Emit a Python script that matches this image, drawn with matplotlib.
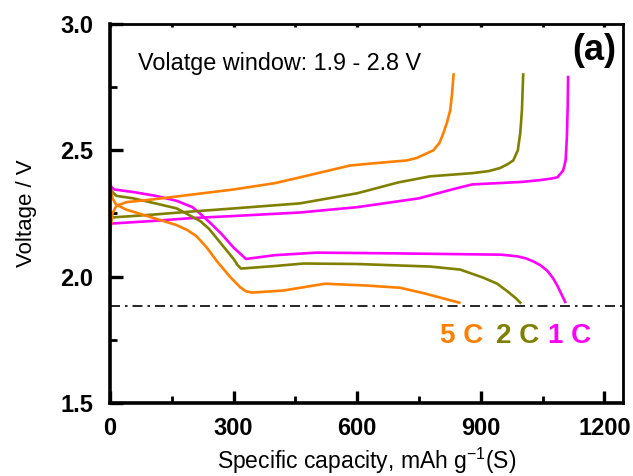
import matplotlib.pyplot as plt
from matplotlib.ticker import MultipleLocator

plt.rcParams['font.family'] = ['Liberation Sans', 'DejaVu Sans']

# 1 C
cap_1c_dis = [0, 3, 10, 56, 110, 162, 200, 215, 245, 270, 300, 320, 330, 400, 500, 700, 900, 950, 990, 1010, 1028, 1045, 1061, 1075, 1086, 1096, 1105]
v_1c_dis = [2.37, 2.355, 2.345, 2.335, 2.32, 2.30, 2.275, 2.255, 2.21, 2.17, 2.115, 2.085, 2.07, 2.085, 2.095, 2.092, 2.088, 2.087, 2.08, 2.072, 2.06, 2.045, 2.024, 1.995, 1.964, 1.93, 1.90]
cap_1c_ch = [2, 100, 200, 300, 461, 600, 750, 830, 879, 1000, 1044, 1070, 1086, 1100, 1106, 1109, 1111, 1112]
v_1c_ch = [2.21, 2.22, 2.232, 2.24, 2.254, 2.275, 2.31, 2.345, 2.365, 2.375, 2.382, 2.388, 2.393, 2.42, 2.46, 2.55, 2.67, 2.79]

# 2 C
cap_2c_dis = [0, 3, 15, 56, 110, 162, 219, 240, 260, 280, 300, 310, 318, 400, 470, 600, 777, 850, 906, 940, 963, 985, 996]
v_2c_dis = [2.36, 2.34, 2.32, 2.31, 2.29, 2.27, 2.22, 2.19, 2.15, 2.11, 2.07, 2.045, 2.032, 2.042, 2.052, 2.05, 2.04, 2.028, 1.996, 1.972, 1.944, 1.915, 1.897]
cap_2c_ch = [2, 100, 200, 300, 461, 600, 700, 777, 882, 920, 947, 965, 979, 990, 996, 1000, 1003]
v_2c_ch = [2.234, 2.245, 2.258, 2.27, 2.29, 2.33, 2.373, 2.397, 2.41, 2.418, 2.43, 2.445, 2.46, 2.50, 2.57, 2.66, 2.80]

# 5 C
cap_5c_dis = [0, 2, 6, 15, 40, 80, 130, 160, 187, 210, 235, 260, 291, 316, 330, 345, 420, 522, 620, 704, 760, 802, 848]
v_5c_dis = [2.39, 2.34, 2.31, 2.285, 2.265, 2.245, 2.22, 2.205, 2.185, 2.16, 2.115, 2.06, 2.00, 1.958, 1.942, 1.937, 1.945, 1.972, 1.965, 1.956, 1.935, 1.917, 1.897]
cap_5c_ch = [0, 2, 6, 15, 40, 100, 200, 300, 400, 461, 583, 650, 721, 745, 785, 800, 809, 818, 826, 830, 834]
v_5c_ch = [2.14, 2.20, 2.25, 2.28, 2.295, 2.305, 2.325, 2.345, 2.37, 2.393, 2.44, 2.45, 2.46, 2.47, 2.50, 2.53, 2.567, 2.61, 2.66, 2.72, 2.80]

cutoff = 1.885

c1, c2, c5 = '#FF00FF', '#808000', '#FF8000'

fig = plt.figure(figsize=(6.33, 4.76), dpi=100)
ax = fig.add_axes([0.1738, 0.1534, 0.8102, 0.7962])

lw = 1.9
ax.plot(cap_1c_dis, v_1c_dis, color=c1, lw=lw)
ax.plot(cap_1c_ch, v_1c_ch, color=c1, lw=lw)
ax.plot(cap_2c_dis, v_2c_dis, color=c2, lw=lw)
ax.plot(cap_2c_ch, v_2c_ch, color=c2, lw=lw)
ax.plot(cap_5c_dis, v_5c_dis, color=c5, lw=lw)
ax.plot(cap_5c_ch, v_5c_ch, color=c5, lw=lw)

ax.axhline(cutoff, color='black', lw=1.2, ls=(0, (6, 3, 1.5, 3)))

ax.set_xlim(0, 1245)
ax.set_ylim(1.5, 3.0)
ax.xaxis.set_major_locator(MultipleLocator(300))
ax.xaxis.set_minor_locator(MultipleLocator(150))
ax.yaxis.set_major_locator(MultipleLocator(0.5))
ax.yaxis.set_minor_locator(MultipleLocator(0.25))
ax.yaxis.set_major_formatter(plt.FormatStrFormatter('%.1f'))

for s in ['left', 'bottom']:
    ax.spines[s].set_linewidth(2.6)
for s in ['top', 'right']:
    ax.spines[s].set_linewidth(2.0)

ax.tick_params(which='major', direction='in', length=9, width=2.4, labelsize=17)
ax.tick_params(which='minor', direction='in', length=5, width=2.0)
ax.tick_params(axis='x', which='both', top=True)
ax.tick_params(axis='x', which='major', pad=10)
ax.tick_params(axis='y', which='major', pad=12)
for lab in ax.get_xticklabels() + ax.get_yticklabels():
    lab.set_fontweight('bold')
# tiny marks along the top spine
for t in ax.xaxis.get_ticklines(minor=False)[1::2] + ax.xaxis.get_ticklines(minor=True)[1::2]:
    t.set_markersize(2)

ax.set_xlabel('Specific capacity, mAh g$^{\\mathregular{-1}}$(S)', fontsize=16.5)
ax.set_ylabel('Voltage / V', fontsize=16)
ax.xaxis.set_label_coords(0.5, -0.112)
ax.yaxis.set_label_coords(-0.142, 0.5)

ax.text(0.055, 0.879, 'Volatge window: 1.9 - 2.8 V', transform=ax.transAxes, fontsize=16.8)
ax.text(0.988, 0.929, '(a)', transform=ax.transAxes, fontsize=26, fontweight='bold',
        ha='right', va='center')

ax.text(0.643, 0.158, '5 C', transform=ax.transAxes, color=c5, fontsize=20, fontweight='bold')
ax.text(0.752, 0.158, '2 C', transform=ax.transAxes, color=c2, fontsize=20, fontweight='bold')
ax.text(0.854, 0.158, '1 C', transform=ax.transAxes, color=c1, fontsize=20, fontweight='bold')

fig.savefig('out.png', dpi=100)
